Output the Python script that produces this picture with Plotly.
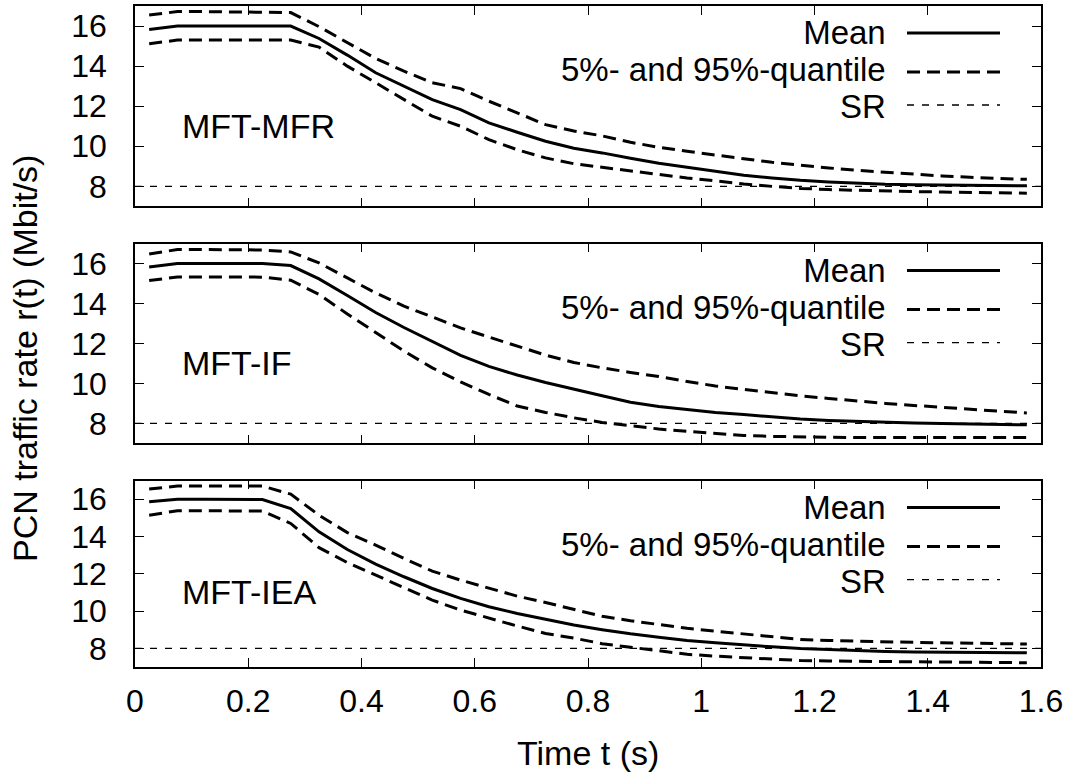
import plotly.graph_objects as go

# ---------------- data ----------------
time_s = [0.025, 0.075, 0.125, 0.175, 0.225, 0.275, 0.325, 0.375, 0.425, 0.475,
          0.525, 0.575, 0.625, 0.675, 0.725, 0.775, 0.825, 0.875, 0.925, 0.975,
          1.025, 1.075, 1.125, 1.175, 1.225, 1.275, 1.325, 1.375, 1.425, 1.475,
          1.525, 1.575]

sr_rate = 8.0

mfr_mean = [15.83, 16.0, 16.0, 16.0, 16.0, 16.0, 15.38, 14.55, 13.67, 13.0,
            12.33, 11.83, 11.17, 10.7, 10.25, 9.9, 9.67, 9.4, 9.15, 8.95,
            8.75, 8.55, 8.42, 8.3, 8.22, 8.15, 8.1, 8.08, 8.06, 8.05, 8.04, 8.03]
mfr_q95 = [16.55, 16.72, 16.72, 16.7, 16.68, 16.67, 15.97, 15.18, 14.38, 13.75,
           13.17, 12.88, 12.25, 11.67, 11.08, 10.76, 10.52, 10.2, 9.95, 9.75,
           9.55, 9.38, 9.2, 9.05, 8.92, 8.8, 8.7, 8.6, 8.52, 8.45, 8.4, 8.35]
mfr_q05 = [15.12, 15.3, 15.3, 15.3, 15.3, 15.3, 14.95, 14.0, 13.17, 12.33,
           11.5, 11.0, 10.33, 9.83, 9.42, 9.13, 8.95, 8.75, 8.58, 8.42,
           8.28, 8.12, 8.0, 7.9, 7.84, 7.8, 7.76, 7.74, 7.72, 7.7, 7.68, 7.66]

if_mean = [15.83, 16.0, 16.0, 16.0, 16.0, 15.9, 15.23, 14.4, 13.55, 12.8,
           12.1, 11.4, 10.85, 10.42, 10.05, 9.7, 9.38, 9.06, 8.85, 8.7,
           8.55, 8.44, 8.33, 8.22, 8.15, 8.1, 8.05, 8.02, 7.99, 7.97, 7.95, 7.93]
if_q95 = [16.48, 16.7, 16.7, 16.7, 16.68, 16.58, 16.03, 15.28, 14.53, 13.87,
          13.32, 12.78, 12.32, 11.87, 11.42, 11.05, 10.78, 10.55, 10.35, 10.1,
          9.87, 9.7, 9.53, 9.38, 9.25, 9.12, 9.0, 8.9, 8.8, 8.7, 8.62, 8.52]
if_q05 = [15.15, 15.33, 15.33, 15.33, 15.32, 15.17, 14.45, 13.48, 12.53, 11.62,
          10.78, 10.08, 9.45, 8.87, 8.55, 8.28, 8.05, 7.87, 7.72, 7.6,
          7.5, 7.4, 7.35, 7.32, 7.3, 7.29, 7.29, 7.3, 7.31, 7.3, 7.29, 7.29]

iea_mean = [15.86, 16.0, 16.0, 16.0, 15.98, 15.5, 14.25, 13.3, 12.52, 11.84,
            11.21, 10.68, 10.23, 9.87, 9.55, 9.25, 9.0, 8.78, 8.6, 8.42,
            8.3, 8.18, 8.08, 7.99, 7.93, 7.87, 7.83, 7.8, 7.78, 7.77, 7.76, 7.76]
iea_q95 = [16.54, 16.71, 16.71, 16.71, 16.7, 16.27, 15.14, 14.21, 13.54, 12.82,
           12.14, 11.66, 11.21, 10.8, 10.46, 10.1, 9.72, 9.48, 9.27, 9.08,
           8.92, 8.76, 8.62, 8.48, 8.42, 8.38, 8.35, 8.32, 8.3, 8.28, 8.25, 8.23]
iea_q05 = [15.14, 15.38, 15.38, 15.38, 15.36, 14.7, 13.4, 12.6, 11.93, 11.27,
           10.59, 10.05, 9.61, 9.2, 8.8, 8.55, 8.25, 8.06, 7.88, 7.68,
           7.58, 7.5, 7.42, 7.35, 7.32, 7.3, 7.28, 7.26, 7.25, 7.24, 7.24, 7.23]

panel_names = ["MFT-MFR", "MFT-IF", "MFT-IEA"]
legend_labels = ["Mean", "5%- and 95%-quantile", "SR"]
x_tick_vals = [0, 0.2, 0.4, 0.6, 0.8, 1.0, 1.2, 1.4, 1.6]
x_tick_text = ["0", "0.2", "0.4", "0.6", "0.8", "1", "1.2", "1.4", "1.6"]
y_tick_vals = [8, 10, 12, 14, 16]
y_tick_text = ["8", "10", "12", "14", "16"]
x_range = [0, 1.6]
y_range = [7, 17]

panels = [
    (mfr_mean, mfr_q05, mfr_q95),
    (if_mean, if_q05, if_q95),
    (iea_mean, iea_q05, iea_q95),
]

# ---------------- figure ----------------
FONT = "Liberation Sans, Arial, Helvetica, sans-serif"
fig = go.Figure()

domains = [[0.6968, 1.0], [0.3383, 0.6406], [0.0, 0.2821]]
mean_style = dict(color="black", width=3)
q_style = dict(color="black", width=3, dash="13px,7px")
sr_style = dict(color="black", width=1.3, dash="7px,8px")

for i, (m, lo, hi) in enumerate(panels):
    n = i + 1
    xa = "x" if n == 1 else f"x{n}"
    ya = "y" if n == 1 else f"y{n}"
    fig.add_trace(go.Scatter(x=x_range, y=[sr_rate, sr_rate], mode="lines",
                             line=sr_style, xaxis=xa, yaxis=ya, showlegend=False))
    fig.add_trace(go.Scatter(x=time_s, y=hi, mode="lines", line=q_style,
                             xaxis=xa, yaxis=ya, showlegend=False))
    fig.add_trace(go.Scatter(x=time_s, y=lo, mode="lines", line=q_style,
                             xaxis=xa, yaxis=ya, showlegend=False))
    fig.add_trace(go.Scatter(x=time_s, y=m, mode="lines", line=mean_style,
                             xaxis=xa, yaxis=ya, showlegend=False))

axis_common = dict(showline=True, linecolor="black", linewidth=1.5, mirror="allticks",
                   ticks="inside", ticklen=9, tickwidth=1, tickcolor="black",
                   showgrid=False, zeroline=False,
                   tickfont=dict(family=FONT, size=32, color="black"))

layout_axes = {}
for i in range(3):
    n = i + 1
    xkey = "xaxis" if n == 1 else f"xaxis{n}"
    ykey = "yaxis" if n == 1 else f"yaxis{n}"
    anchor_x = "y" if n == 1 else f"y{n}"
    anchor_y = "x" if n == 1 else f"x{n}"
    layout_axes[xkey] = dict(axis_common, domain=[0, 1], anchor=anchor_x, range=x_range,
                             tickvals=x_tick_vals, ticktext=x_tick_text,
                             showticklabels=(n == 3), ticklabelstandoff=5)
    layout_axes[ykey] = dict(axis_common, domain=domains[i], anchor=anchor_y, range=y_range,
                             tickvals=y_tick_vals, ticktext=y_tick_text,
                             ticklabelstandoff=20)
fig.update_layout(**layout_axes)

annotations = []
shapes = []
line_offsets = [27, 66, 99]
legend_lines = [mean_style, q_style, sr_style]
legend_text = "<br>".join(f"<span style='font-size:33px'>{lab}</span>" for lab in legend_labels)
for i in range(3):
    n = i + 1
    xr = "x" if n == 1 else f"x{n}"
    yr = "y" if n == 1 else f"y{n}"
    annotations.append(dict(text=panel_names[i], x=0.08, y=11, xref=xr, yref=yr,
                            xanchor="left", yanchor="middle", showarrow=False,
                            font=dict(family=FONT, size=34, color="black")))
    # legend block: one right-aligned text with three rows
    annotations.append(dict(text=legend_text, x=1, y=1, xref=f"{xr} domain", yref=f"{yr} domain",
                            xanchor="right", yanchor="top", align="right",
                            xshift=-153, yshift=-6, showarrow=False,
                            font=dict(family=FONT, size=28.5, color="black")))
    for loff, ls in zip(line_offsets, legend_lines):
        shapes.append(dict(type="line", xref=f"{xr} domain", yref=f"{yr} domain",
                           xsizemode="pixel", ysizemode="pixel", xanchor=1, yanchor=1,
                           x0=-134, x1=-41, y0=-loff, y1=-loff, line=ls))

annotations.append(dict(text="PCN traffic rate r(t) (Mbit/s)", textangle=-90,
                        x=-0.1214, y=0.466, xref="paper", yref="paper",
                        xanchor="center", yanchor="middle", showarrow=False,
                        font=dict(family=FONT, size=34, color="black")))
annotations.append(dict(text="Time t (s)", x=0.5, y=-0.1297, xref="paper", yref="paper",
                        xanchor="center", yanchor="middle", showarrow=False,
                        font=dict(family=FONT, size=34, color="black")))

fig.update_layout(width=1072, height=776, margin=dict(l=135, r=31, t=4, b=109),
                  paper_bgcolor="white", plot_bgcolor="white",
                  annotations=annotations, shapes=shapes, showlegend=False,
                  font=dict(family=FONT, color="black"))

fig.write_html("out.html", config={"displayModeBar": False},
               post_script="document.body.style.margin='0px';document.body.style.overflow='hidden';")
